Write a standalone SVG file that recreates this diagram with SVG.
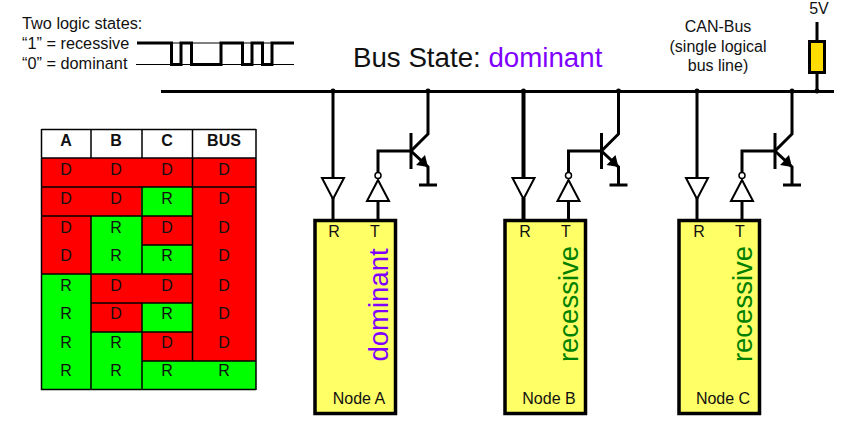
<svg xmlns="http://www.w3.org/2000/svg" width="850" height="425" viewBox="0 0 850 425">
<style>
text{font-family:"Liberation Sans",Arial,sans-serif;fill:#111}
.s{font-size:16.300px}.n{font-size:16px;text-anchor:middle}
.c{font-size:16px;text-anchor:middle}.h{font-size:16px;font-weight:bold;text-anchor:middle}
.w{fill:none;stroke:#000;stroke-width:3}
.g{fill:#fff;stroke:#000;stroke-width:2}
.node{fill:#ffff66;stroke:#000;stroke-width:3.500}
.t{fill:none;stroke:#000;stroke-width:1.500}
.red{fill:#ff0000}.grn{fill:#00ff00}
.v{font-size:27.500px;text-anchor:middle}
</style>
<defs>
<g id="stage">
<path class="w" d="M18 91V178"/>
<path class="w" d="M18 198V220"/>
<path class="g" d="M7 178H29L18 199Z"/>
<path class="w" d="M63 220V202"/>
<path class="g" d="M52 201H74L63 180Z"/>
<circle cx="63" cy="175.500" r="3" fill="#fff" stroke="#000" stroke-width="1.500"/>
<path class="w" d="M63 172V151H96"/>
<path class="w" d="M96 133V169"/>
<path class="w" d="M113 91V134L96 151L113 167V185"/>
<path class="w" d="M104 185H122"/>
<path d="M113 167L101 165L106 160Z M113 167L110 155L105 160Z" fill="#000"/>
<circle cx="18" cy="91" r="2.500"/><circle cx="113" cy="91" r="2.500"/>
</g>
</defs>
<rect width="850" height="425" fill="#fff"/>
<g id="legend">
<text class="s" x="22" y="29">Two logic states:</text>
<text class="s" x="22" y="49">“1” = recessive</text>
<text class="s" x="22" y="69">“0” = dominant</text>
<path d="M136 64.500H294M137 43H294" fill="none" stroke="#000" stroke-width="1"/>
<path d="M137 43H171.500V64.500H181V43H191.500V64.500H221V43H242.500V64.500H252V43H262.500V64.500H272V43H294" fill="none" stroke="#000" stroke-width="3"/>
</g>
<text x="353" y="67" font-size="27.700">Bus State: <tspan style="fill:#8000ff">dominant</tspan></text>
<g id="canbus-label">
<text class="n" x="718" y="32">CAN-Bus</text>
<text class="n" x="718" y="52">(single logical</text>
<text class="n" x="718" y="71">bus line)</text>
</g>
<g id="table">
<rect x="41" y="129" width="215" height="29" fill="#fff"/>
<rect class="red" x="41" y="158" width="215" height="29"/>
<rect class="red" x="41" y="187" width="215" height="29"/>
<rect class="grn" x="141" y="187" width="51" height="29"/>
<rect class="red" x="41" y="216" width="215" height="58"/>
<rect class="grn" x="91" y="216" width="51" height="58"/>
<rect class="grn" x="142" y="245" width="50" height="29"/>
<rect class="grn" x="41" y="274" width="50" height="116"/>
<rect class="red" x="91" y="274" width="165" height="29"/>
<rect class="red" x="91" y="303" width="165" height="29"/>
<rect class="grn" x="142" y="303" width="50" height="29"/>
<rect class="grn" x="91" y="332" width="51" height="58"/>
<rect class="red" x="142" y="332" width="114" height="29"/>
<rect class="grn" x="142" y="361" width="114" height="29"/>
<path class="t" d="M41.500 129.500H256M41.500 158H256M41 187H192M192 187H256M41 216H192M142 245H192M41 274H192M91 303H192M91 332H192M142 361H256M41 389.500H256M41.500 129V390M91 129V158M91 216V274M91 274V390M142 129V158M142 187V274M142 303V390M192.500 129V361M256 129V390"/>
<g><text class="h" x="66" y="146">A</text><text class="h" x="116" y="146">B</text><text class="h" x="167" y="146">C</text><text class="h" x="224" y="146">BUS</text></g>
<g>
<text class="c" x="66" y="175">D</text><text class="c" x="116" y="175">D</text><text class="c" x="167" y="175">D</text><text class="c" x="224" y="175">D</text>
<text class="c" x="66" y="204">D</text><text class="c" x="116" y="204">D</text><text class="c" x="167" y="204">R</text><text class="c" x="224" y="204">D</text>
<text class="c" x="66" y="233">D</text><text class="c" x="116" y="233">R</text><text class="c" x="167" y="233">D</text><text class="c" x="224" y="233">D</text>
<text class="c" x="66" y="261">D</text><text class="c" x="116" y="261">R</text><text class="c" x="167" y="261">R</text><text class="c" x="224" y="261">D</text>
<text class="c" x="66" y="291">R</text><text class="c" x="116" y="291">D</text><text class="c" x="167" y="291">D</text><text class="c" x="224" y="291">D</text>
<text class="c" x="66" y="319">R</text><text class="c" x="116" y="319">D</text><text class="c" x="167" y="319">R</text><text class="c" x="224" y="319">D</text>
<text class="c" x="66" y="348">R</text><text class="c" x="116" y="348">R</text><text class="c" x="167" y="348">D</text><text class="c" x="224" y="348">D</text>
<text class="c" x="66" y="376">R</text><text class="c" x="116" y="376">R</text><text class="c" x="167" y="376">R</text><text class="c" x="224" y="376">R</text>
</g>
</g>
<g id="connectors">
<path class="w" d="M161 91.500H834"/>
<use href="#stage" x="315"/>
<use href="#stage" x="505.500"/>
<use href="#stage" x="679"/>
<path d="M523.500 91V178M523.500 198V220" fill="none" stroke="#000" stroke-width="4"/>
</g>
<g id="resistor">
<text class="n" x="819" y="14">5V</text>
<path class="w" d="M817 22V91"/>
<rect x="809.500" y="41.500" width="15" height="31" fill="#ffdd00" stroke="#000" stroke-width="3"/>
<circle cx="817" cy="91" r="2.500"/>
</g>
<g id="node-a">
<rect class="node" x="315" y="220.500" width="80.500" height="193"/>
<text class="n" x="334" y="237">R</text><text class="n" x="375" y="237">T</text>
<text class="v" transform="translate(388,305) rotate(-90)" style="fill:#8000ff">dominant</text>
<text class="n" x="359" y="404">Node A</text>
</g>
<g id="node-b">
<rect class="node" x="505" y="220.500" width="80.500" height="193"/>
<text class="n" x="525" y="237">R</text><text class="n" x="566" y="237">T</text>
<text class="v" transform="translate(578,304) rotate(-90)" style="fill:#008000">recessive</text>
<text class="n" x="549" y="404">Node B</text>
</g>
<g id="node-c">
<rect class="node" x="679" y="220.500" width="80.500" height="193"/>
<text class="n" x="699" y="237">R</text><text class="n" x="740" y="237">T</text>
<text class="v" transform="translate(752,304) rotate(-90)" style="fill:#008000">recessive</text>
<text class="n" x="723" y="404">Node C</text>
</g>
</svg>
